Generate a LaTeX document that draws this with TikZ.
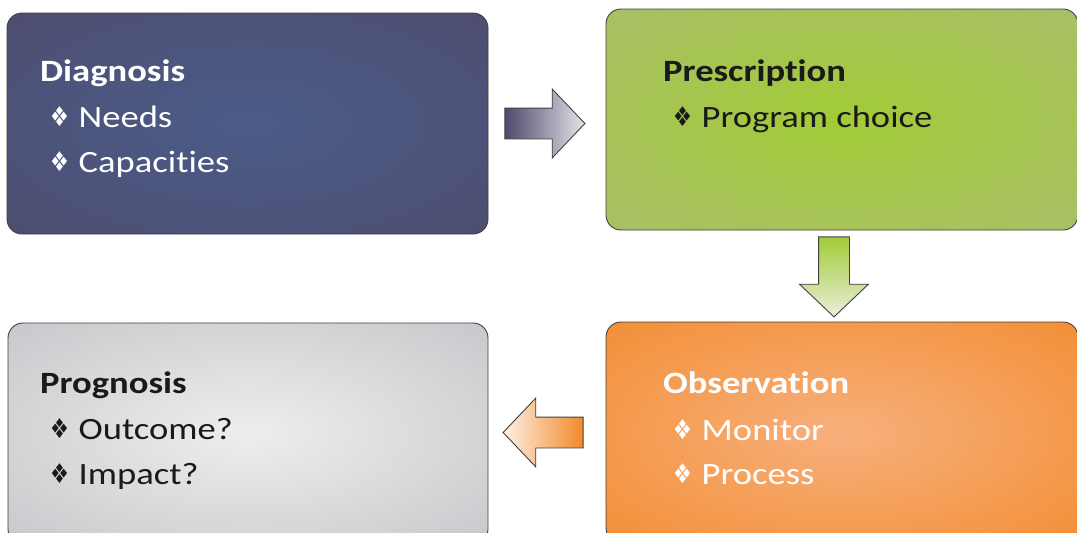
\documentclass[tikz,border=0pt]{standalone}
\usepackage{fontspec}
\setmainfont{Carlito}[FakeStretch=1.18, Ligatures=NoCommon]
\newfontfamily\bulletfont{DejaVu Sans}
\usetikzlibrary{shapes.arrows,calc}

\definecolor{diagin}{HTML}{4A5C88}
\definecolor{diagout}{HTML}{4F4A6B}
\definecolor{prescin}{HTML}{A2CB36}
\definecolor{prescout}{HTML}{ABBC74}
\definecolor{obsin}{HTML}{F7B07C}
\definecolor{obsout}{HTML}{F2892A}
\definecolor{progin}{HTML}{EEEEEE}
\definecolor{progout}{HTML}{BEBFC3}
\definecolor{boxline}{HTML}{404040}
\definecolor{darktext}{HTML}{1A1A1A}

\pgfdeclareradialshading{diagglow}{\pgfpoint{0bp}{0bp}}{color(0bp)=(diagin); color(44bp)=(diagout); color(100bp)=(diagout)}
\pgfdeclareradialshading{prescglow}{\pgfpoint{0bp}{0bp}}{color(0bp)=(prescin); color(44bp)=(prescout); color(100bp)=(prescout)}
\pgfdeclareradialshading{obsglow}{\pgfpoint{0bp}{0bp}}{color(0bp)=(obsin); color(42bp)=(obsout); color(100bp)=(obsout)}
\pgfdeclareradialshading{progglow}{\pgfpoint{0bp}{0bp}}{color(0bp)=(progin); color(44bp)=(progout); color(100bp)=(progout)}

\newcommand{\bul}{\makebox[28.5pt][l]{\raisebox{1pt}{\scalebox{1}[1.3]{\bulletfont\fontsize{21}{21}\selectfont ❖}}}}

\tikzset{
    box/.style={rounded corners=15pt, draw=boxline, line width=0.9pt, inner sep=0pt,
        minimum height=221pt},
    head/.style={anchor=base west, inner sep=0pt, font=\fontsize{31}{36}\selectfont\bfseries},
    item/.style={anchor=base west, inner sep=0pt, font=\fontsize{31}{36}\selectfont},
    blockarrow/.style={single arrow, draw=boxline, line width=0.9pt, inner sep=15pt,
        minimum height=80pt, single arrow head extend=19pt,
        single arrow tip angle=93, anchor=tail}
}

\begin{document}
\begin{tikzpicture}[x=1pt, y=-1pt]
        \useasboundingbox (0,0) rectangle (1077,533);
        \clip (0,0) rectangle (1077,533);
        \fill[white] (0,0) rectangle (1077,533);
        % boxes
        \node[box, shading=diagglow, minimum width=481pt] (diag) at (247.5,123.5) {};
        \node[box, shading=prescglow, minimum width=472pt] (presc) at (842,119.5) {};
        \node[box, shading=obsglow, minimum width=472pt] (obs) at (842,432.5) {};
        \node[box, shading=progglow, minimum width=480pt] (prog) at (248,433.5) {};

        % arrows between boxes
        \node[blockarrow, left color=diagout, right color=diagout!15!white] (diag2presc)
            at ($(diag.east)+(16,0)$) {};
        \node[blockarrow, shape border rotate=270, top color=prescin, bottom color=prescout!25!white] (presc2obs)
            at ($(presc.south)+(-8,6)$) {};
        \node[blockarrow, shape border rotate=180, right color=obsout, left color=obsout!12!white] (obs2prog)
            at ($(obs.west)+(-22,0)$) {};

        % Labels
        \node[head, white] (diaghead) at (40,81) {Diagnosis};
        \node[item, white] (needs) at (50,127) {\bul Needs};
        \node[item, white] (capac) at (50,172) {\bul Capacities};

        \node[head, darktext] (preschead) at (663,81) {Prescription};
        \node[item, darktext] (choice) at (673,127) {\bul Program choice};

        \node[head, white] (obshead) at (663,393) {Observation};
        \node[item, white] (monitor) at (673,440) {\bul Monitor};
        \node[item, white] (process) at (673,484) {\bul Process};

        \node[head, darktext] (proghead) at (40,393) {Prognosis};
        \node[item, darktext] (outcome) at (50,439) {\bul Outcome?};
        \node[item, darktext] (impact) at (50,484) {\bul Impact?};
    \end{tikzpicture}
\end{document}
